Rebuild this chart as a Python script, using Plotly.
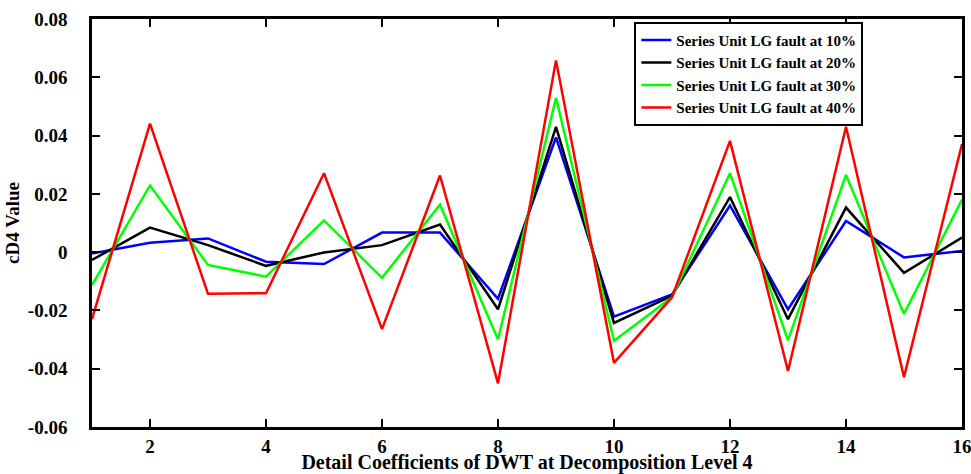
import plotly.graph_objects as go

x = list(range(1, 17))
names = ["Series Unit LG fault at 10%", "Series Unit LG fault at 20%",
         "Series Unit LG fault at 30%", "Series Unit LG fault at 40%"]
colors = ["#0000ff", "#000000", "#00ff00", "#ff0000"]

fault10 = [-0.0005, 0.0032, 0.0047, -0.0033, -0.0041, 0.0067, 0.0067, -0.0160,
           0.0394, -0.0221, -0.0145, 0.0160, -0.0196, 0.0107, -0.0018, 0.0004]
fault20 = [-0.0027, 0.0084, 0.0024, -0.0047, -0.0001, 0.0024, 0.0095, -0.0196,
           0.0430, -0.0243, -0.0150, 0.0189, -0.0230, 0.0153, -0.0071, 0.0050]
fault30 = [-0.0113, 0.0229, -0.0044, -0.0084, 0.0109, -0.0088, 0.0163, -0.0300,
           0.0530, -0.0304, -0.0155, 0.0271, -0.0303, 0.0265, -0.0212, 0.0180]
fault40 = [-0.0230, 0.0441, -0.0143, -0.0141, 0.0271, -0.0264, 0.0263, -0.0450,
           0.0658, -0.0380, -0.0155, 0.0382, -0.0408, 0.0430, -0.0429, 0.0371]

series = [fault10, fault20, fault30, fault40]

xticks = [2, 4, 6, 8, 10, 12, 14, 16]
yticks = [-0.06, -0.04, -0.02, 0, 0.02, 0.04, 0.06, 0.08]
ytick_labels = ["-0.06", "-0.04", "-0.02", "0", "0.02", "0.04", "0.06", "0.08"]

FONT = "Liberation Serif"

fig = go.Figure()
for name, col, ys in zip(names, colors, series):
    fig.add_trace(go.Scatter(x=x, y=ys, mode="lines", name=name,
                             line=dict(color=col, width=2.5)))

fig.update_layout(
    width=971, height=474,
    margin=dict(l=92, r=9, t=19, b=47),
    paper_bgcolor="white", plot_bgcolor="white",
    font=dict(family=FONT, size=19, color="black", weight="bold"),
    showlegend=True,
    legend=dict(x=0.755, y=0.993, xanchor="center", yanchor="top",
                bgcolor="white", bordercolor="black", borderwidth=2,
                font=dict(family=FONT, size=15, color="black", weight="bold"),
                tracegroupgap=0),
)
fig.update_xaxes(
    range=[1, 16], tickvals=xticks, ticktext=[str(v) for v in xticks],
    ticks="inside", ticklen=8, tickwidth=2, tickcolor="black",
    showline=True, linecolor="black", linewidth=2.5, mirror="ticks",
    showgrid=False, zeroline=False, automargin=False,
    ticklabeloverflow="allow",
    title=dict(text="Detail Coefficients of DWT at Decomposition Level 4",
               standoff=8, font=dict(family=FONT, size=20, weight="bold")),
    tickfont=dict(family=FONT, size=19, weight="bold"),
)
fig.update_yaxes(
    range=[-0.06, 0.08], tickvals=yticks, ticktext=ytick_labels,
    ticks="inside", ticklen=8, tickwidth=2, tickcolor="black",
    showline=True, linecolor="black", linewidth=2.5, mirror="ticks",
    showgrid=False, zeroline=False, ticklabelstandoff=18, automargin=False,
    title=dict(text="cD4 Value" + "\u00a0" * 5, standoff=4,
               font=dict(family=FONT, size=19, weight="bold")),
    tickfont=dict(family=FONT, size=19, weight="bold"),
)

fig.write_html("out.html", config={"displayModeBar": False},
               post_script="document.body.style.margin='0';document.body.style.overflow='hidden';")
